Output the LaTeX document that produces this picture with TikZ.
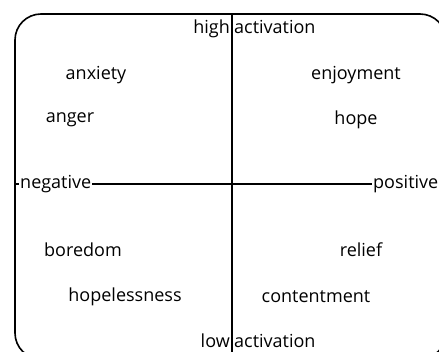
\documentclass[tikz,border=0pt]{standalone}
\usepackage{fontspec}
\setmainfont{Open Sans}

\begin{document}
\begin{tikzpicture}[x=1pt,y=-1pt,
	emotion/.style={font=\fontsize{18}{21}\selectfont},
	pole/.style={emotion,fill=white,inner sep=1pt},
	axis/.style={line width=1.2pt}]
\useasboundingbox (0,0) rectangle (439,351);
\clip (0,0) rectangle (439,351);
\draw[line width=1.6pt,rounded corners=26pt] (15,14) rectangle (446,359);

\coordinate (top) at (232,14);
\coordinate (bottom) at (232,359);
\coordinate (left) at (15,184);
\coordinate (right) at (446,184);
\draw[axis] (top) -- (bottom);
\draw[axis] (left) -- (right);

\node[emotion,anchor=base east,inner sep=0pt] (high) at (230,33) {high};
\node[emotion,anchor=base west,inner sep=0pt] (highact) at (234,33) {activation};
\node[emotion,anchor=base east,inner sep=0pt] (low) at (230,347) {low};
\node[emotion,anchor=base west,inner sep=0pt] (lowact) at (234,347) {activation};
\node[pole,anchor=west] (neg) at (19,184) {negative};
\node[pole,anchor=west] (pos) at (372,184) {positive};

\node[emotion] (anxiety) at (96,75) {anxiety};
\node[emotion] (anger) at (70,120) {anger};
\node[emotion] (boredom) at (83,250) {boredom};
\node[emotion] (hopeless) at (125,297) {hopelessness};
\node[emotion] (enjoy) at (356,75) {enjoyment};
\node[emotion] (hope) at (356,120) {hope};
\node[emotion] (relief) at (361,250) {relief};
\node[emotion] (content) at (316,297) {contentment};
\end{tikzpicture}
\end{document}
